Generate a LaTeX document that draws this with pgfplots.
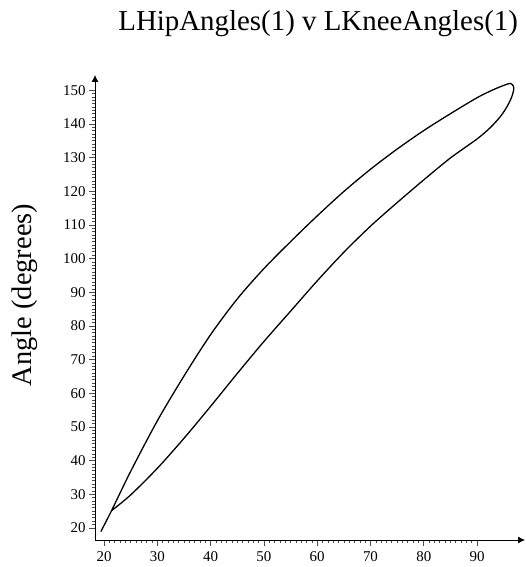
\documentclass[border=0pt]{standalone}
\usepackage{fontspec}
\setmainfont{Liberation Serif}
\usepackage{pgfplots}
\pgfplotsset{compat=1.18}
\usetikzlibrary{arrows.meta}

% hip vs knee angle loop
\pgfplotstableread{
x y
19.4 18.9
21.4 25.1
25.0 36.8
30.0 51.8
35.0 65.1
40.0 77.4
45.0 88.0
50.0 97.0
55.0 105.0
60.0 112.65
65.0 119.9
70.0 126.5
75.0 132.5
80.0 138.0
85.0 143.0
90.0 147.75
93.0 150.1
95.0 151.4
96.3 152.0
96.9 150.8
96.6 148.4
95.8 145.6
94.5 142.4
92.5 138.9
90.0 135.5
85.0 129.85
80.0 123.35
75.0 116.6
70.0 109.6
65.0 101.85
60.0 93.35
55.0 84.35
50.0 75.35
45.0 65.85
40.0 56.1
35.0 46.6
30.0 37.7
25.0 29.8
21.4 25.1
}\loopdata

\begin{document}
\begin{tikzpicture}
\useasboundingbox (-95bp,-27bp) rectangle (431bp,540bp);
\begin{axis}[
    scale only axis, width=430bp, height=465bp,
    at={(0,0)}, anchor=south west,
    axis lines=left,
    axis line style={line width=0.8bp, -{Latex[length=7bp,width=7bp]}},
    xmin=18.3, xmax=99, ymin=16.4, ymax=154.5,
    xtick={20,30,...,90}, ytick={20,30,...,150},
    minor tick num=9,
    tick align=outside,
    major tick length=6bp, minor tick length=3bp,
    tick style={line width=0.6bp, black!70},
    ticklabel style={font=\fontsize{15}{15}\selectfont},
    /pgf/number format/assume math mode=true,
    xticklabel style={yshift=-2bp},
    every axis title shift=0pt,
    title={LHipAngles(1) v LKneeAngles(1)},
    title style={at={(0.519,1)}, anchor=center, yshift=51bp,
        font=\fontsize{29}{30}\selectfont},
    ylabel={Angle (degrees)},
    ylabel style={at={(axis description cs:-0.163,0.527)}, anchor=center,
        font=\fontsize{28.5}{30}\selectfont},
    clip=false,
]
\addplot[black, line width=1.3bp, smooth, tension=0.5] table[x=x, y=y] {\loopdata};
\end{axis}
\end{tikzpicture}
\end{document}
